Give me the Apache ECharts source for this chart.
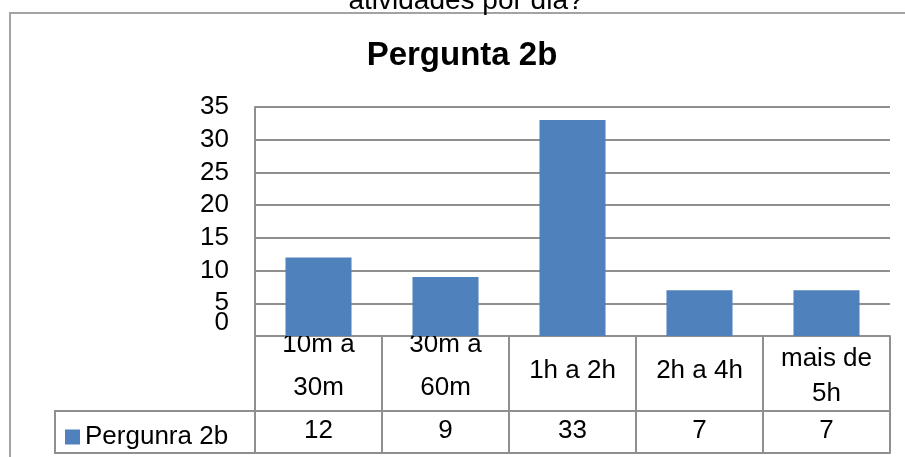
<!DOCTYPE html>
<html>
<head>
<meta charset="utf-8">
<title>Pergunta 2b</title>
<script src="https://cdn.jsdelivr.net/npm/echarts@6/dist/echarts.min.js"></script>
<style>
  html, body { margin: 0; padding: 0; background: #ffffff; }
  #chart { width: 905px; height: 457px; }
</style>
</head>
<body>
<div id="chart"></div>
<script>
// Time-range answers and counts for question 2b
const categories = ['10m a\n30m', '30m a\n60m', '1h a 2h', '2h a 4h', 'mais de\n5h'];
const counts = [12, 9, 33, 7, 7];
const seriesName = 'Pergunra 2b';
const yTicks = { min: 0, max: 35, interval: 5 };

// Layout of the plot and its data table
const FONT = "'Liberation Sans', Arial, sans-serif";
const FS = 26;
const GRID = { left: 255, top: 107, right: 15, bottom: 121 };
const W = 905, H = 457;
const axisY = H - GRID.bottom;          // zero line / top of the table
const ROW1 = 75;                        // category row height
const ROW2 = 42;                        // value row height
const LEGEND_LEFT = 55;
const GRAY = '#8f8f8f';

const chart = echarts.init(document.getElementById('chart'), null, { renderer: 'canvas' });

const txt = { fontFamily: FONT, fontSize: FS, color: '#000' };

// category row cells: wrapped labels keep their own line spacing
function cellLabel(label) {
  const lines = label.split('\n');
  if (lines.length === 1) return '{gapS| }\n{one|' + lines[0] + '}';
  if (label.startsWith('mais')) return '{gapL| }\n{tall|' + lines[0] + '}\n{tall|' + lines[1] + '}';
  return lines.map(l => '{two|' + l + '}').join('\n');
}

const tableLine = { show: true, onZero: false, lineStyle: { color: GRAY, width: 2 } };

chart.setOption({
  animation: false,
  backgroundColor: '#ffffff',
  title: [
    {
      text: 'atividades por dia?',
      left: 466,
      textAlign: 'center',
      top: -13,
      padding: 0,
      textStyle: { fontFamily: FONT, fontSize: 28, fontWeight: 'normal', color: '#000' }
    },
    {
      text: 'Pergunta 2b',
      left: 462,
      textAlign: 'center',
      top: 39,
      padding: 0,
      textStyle: { fontFamily: FONT, fontSize: 33, fontWeight: 'bold', color: '#000' }
    }
  ],
  legend: {
    data: [seriesName],
    left: 65,
    top: axisY + ROW1 + 13,
    itemWidth: 15,
    itemHeight: 15,
    itemGap: 6,
    icon: 'rect',
    padding: 0,
    textStyle: { fontFamily: FONT, fontSize: 26, color: '#000', padding: [2, 0, 0, 0] }
  },
  grid: { left: GRID.left, top: GRID.top, right: GRID.right, bottom: GRID.bottom, containLabel: false },
  xAxis: [
    {
      type: 'category',
      data: categories,
      axisLine: tableLine,
      axisTick: { show: true, interval: 0, length: ROW1 + ROW2, lineStyle: { color: GRAY, width: 2 } },
      axisLabel: {
        interval: 0,
        margin: 30,
        verticalAlign: 'middle',
        ...txt,
        formatter: cellLabel,
        rich: {
          gapS: { fontFamily: FONT, fontSize: 6, lineHeight: 10 },
          gapL: { fontFamily: FONT, fontSize: 6, lineHeight: 20 },
          one: { ...txt, lineHeight: 30 },
          two: { ...txt, lineHeight: 43 },
          tall: { ...txt, lineHeight: 35 }
        }
      }
    },
    {
      type: 'category',
      position: 'bottom',
      offset: ROW1,
      data: counts.map(String),
      axisLine: tableLine,
      axisTick: { show: false },
      axisLabel: { interval: 0, margin: 20, verticalAlign: 'middle', ...txt }
    },
    {
      type: 'category',
      position: 'bottom',
      offset: ROW1 + ROW2,
      data: categories,
      axisLine: tableLine,
      axisTick: { show: false },
      axisLabel: { show: false }
    }
  ],
  yAxis: [
    {
      type: 'value',
      min: yTicks.min,
      max: yTicks.max,
      interval: yTicks.interval,
      axisLine: tableLine,
      axisTick: { show: false },
      splitLine: { show: true, lineStyle: { color: GRAY, width: 2 } },
      axisLabel: { margin: 26, showMinLabel: false, ...txt }
    },
    {
      // zero label sits just above the table row
      type: 'value',
      position: 'left',
      min: yTicks.min,
      max: yTicks.max,
      interval: yTicks.interval,
      axisLine: { show: false },
      axisTick: { show: false },
      splitLine: { show: false },
      axisLabel: {
        margin: 26,
        showMinLabel: true,
        verticalAlign: 'bottom',
        lineHeight: 26,
        ...txt,
        formatter: v => (v === yTicks.min ? String(v) : '')
      }
    }
  ],
  series: [
    {
      name: seriesName,
      type: 'bar',
      xAxisIndex: 0,
      yAxisIndex: 0,
      data: counts,
      barWidth: '52%',
      itemStyle: { color: '#4F81BD' }
    }
  ],
  graphic: [
    // chart area frame
    {
      type: 'rect',
      z: -10,
      shape: { x: 10, y: 13, width: W + 10, height: H + 10 },
      style: { fill: 'none', stroke: '#a3a3a3', lineWidth: 2 }
    },
    // legend cell of the data table
    {
      type: 'polyline',
      shape: {
        points: [
          [GRID.left, axisY + ROW1],
          [LEGEND_LEFT, axisY + ROW1],
          [LEGEND_LEFT, axisY + ROW1 + ROW2],
          [GRID.left, axisY + ROW1 + ROW2]
        ]
      },
      style: { fill: 'none', stroke: GRAY, lineWidth: 2 }
    }
  ]
});
</script>
</body>
</html>
